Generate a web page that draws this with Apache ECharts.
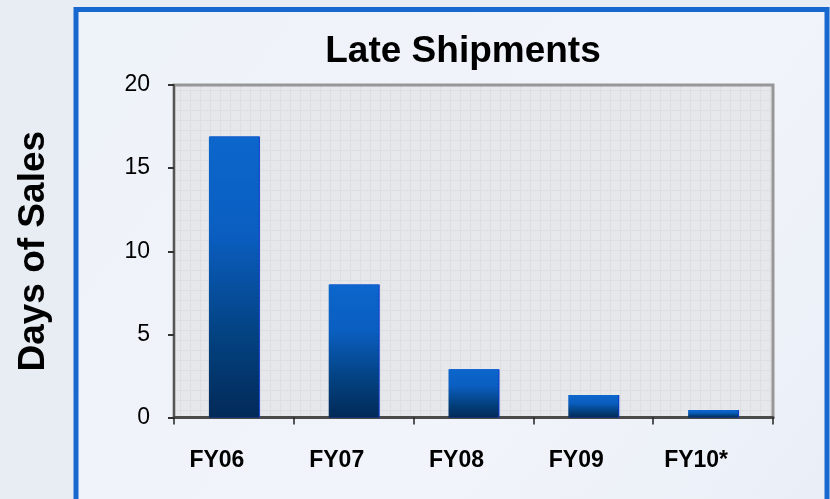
<!DOCTYPE html>
<html>
<head>
<meta charset="utf-8">
<title>Late Shipments</title>
<script src="https://cdn.jsdelivr.net/npm/echarts@6/dist/echarts.min.js"></script>
<style>
  html, body { margin: 0; padding: 0; background: #e9eef5; }
  #chart { width: 830px; height: 499px; }
</style>
</head>
<body>
<div id="chart"></div>
<script>
// Fiscal years and late-shipment days of sales
const categories = ['FY06', 'FY07', 'FY08', 'FY09', 'FY10*'];
const daysOfSales = [16.9, 8.0, 2.9, 1.35, 0.45];
const yTicks = { min: 0, max: 20, interval: 5 };

// Fine graph-paper texture for the plot area
function gridPaper() {
  const c = document.createElement('canvas');
  c.width = 10; c.height = 10;
  const g = c.getContext('2d');
  g.fillStyle = '#e6e7ea';
  g.fillRect(0, 0, 10, 10);
  g.fillStyle = '#dddee1';
  g.fillRect(0, 0, 10, 1);
  g.fillRect(0, 0, 1, 10);
  g.fillStyle = '#eceef0';
  g.fillRect(5, 5, 1, 1);
  return c;
}

const chart = echarts.init(document.getElementById('chart'), null, { renderer: 'canvas' });

chart.setOption({
  backgroundColor: '#e8edf4',
  animation: false,
  graphic: [
    {
      type: 'rect',
      z: -10,
      silent: true,
      shape: { x: 76, y: 9.5, width: 751, height: 560 },
      style: {
        fill: new echarts.graphic.LinearGradient(0, 0, 1, 1, [
          { offset: 0, color: '#eef2f9' },
          { offset: 0.6, color: '#f1f4fa' },
          { offset: 1, color: '#e9eef6' }
        ]),
        stroke: '#1769cf',
        lineWidth: 5
      }
    }
  ],
  title: {
    text: 'Late Shipments',
    left: 458,
    textAlign: 'center',
    top: 28,
    textStyle: {
      fontFamily: 'Liberation Sans, Arial, sans-serif',
      fontSize: 37,
      fontWeight: 'bold',
      color: '#000'
    }
  },
  grid: {
    left: 174,
    right: 57,
    top: 85,
    bottom: 81.5,
    show: true,
    backgroundColor: { image: gridPaper(), repeat: 'repeat' },
    borderColor: '#979797',
    borderWidth: 3
  },
  xAxis: {
    type: 'category',
    data: categories,
    boundaryGap: true,
    axisLine: { show: true, lineStyle: { color: '#4a4a4a', width: 3 } },
    axisTick: { show: true, length: 7, alignWithLabel: false, lineStyle: { color: '#222', width: 1.5 } },
    axisLabel: {
      margin: 32,
      padding: [0, 34, 0, 0],
      fontFamily: 'Liberation Sans, Arial, sans-serif',
      fontSize: 23,
      fontWeight: 'bold',
      color: '#000'
    },
    splitLine: { show: false }
  },
  yAxis: {
    type: 'value',
    min: yTicks.min,
    max: yTicks.max,
    interval: yTicks.interval,
    name: 'Days of Sales',
    nameLocation: 'middle',
    nameGap: 122,
    nameRotate: 90,
    nameTextStyle: {
      fontFamily: 'Liberation Sans, Arial, sans-serif',
      fontSize: 37,
      fontWeight: 'bold',
      color: '#000'
    },
    axisLine: { show: true, lineStyle: { color: '#555', width: 2 } },
    axisTick: { show: true, length: 6, lineStyle: { color: '#333', width: 2 } },
    axisLabel: {
      margin: 24,
      fontFamily: 'Liberation Sans, Arial, sans-serif',
      fontSize: 23,
      color: '#000'
    },
    splitLine: { show: false }
  },
  series: [
    {
      type: 'bar',
      data: daysOfSales,
      barWidth: 50,
      itemStyle: {
        color: new echarts.graphic.LinearGradient(0, 0, 0, 1, [
          { offset: 0, color: '#0c66cc' },
          { offset: 0.35, color: '#0a5ec0' },
          { offset: 0.72, color: '#03417f' },
          { offset: 1, color: '#022a58' }
        ]),
        shadowColor: '#0a35d0',
        shadowOffsetX: 1,
        shadowBlur: 0
      }
    }
  ]
});
</script>
</body>
</html>
